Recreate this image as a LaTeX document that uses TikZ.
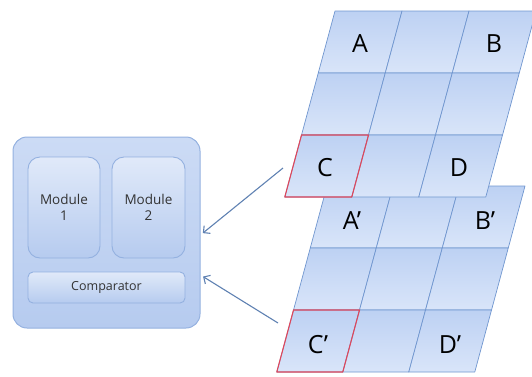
\documentclass[tikz,border=0pt]{standalone}
\usepackage{fontspec}
\setmainfont{Open Sans}
\usetikzlibrary{arrows.meta}
\definecolor{cellTop}{HTML}{BDD1F3}
\definecolor{cellBot}{HTML}{D9E5F9}
\definecolor{cellLine}{HTML}{7096CF}
\definecolor{boxTop}{HTML}{CCDBF5}
\definecolor{boxBot}{HTML}{B6CBEF}
\definecolor{boxLine}{HTML}{94B1E0}
\definecolor{arrowBlue}{HTML}{5F81B2}
\definecolor{markRed}{HTML}{E0475A}

\begin{document}
\begin{tikzpicture}[x=1pt,y=-1pt, line join=round,
    cell/.style={draw=cellLine, line width=0.7pt, top color=cellTop, bottom color=cellBot},
    redcell/.style={draw=markRed, line width=1.1pt},
    outerbox/.style={draw=boxLine, line width=1pt, rounded corners=14pt, top color=boxTop, bottom color=boxBot},
    innerbox/.style={draw=boxLine, line width=0.9pt, top color=boxTop!60!white, bottom color=boxBot},
    modtext/.style={text=black!80, font=\fontsize{13.5}{16}\selectfont, align=center},
    letter/.style={text=black, font=\fontsize{25}{28}\selectfont},
    link/.style={draw=arrowBlue, line width=1.1pt, -{Straight Barb[length=5pt,width=10pt]}, shorten >=3pt}]
  \clip (0,0) rectangle (532,376);

  % left block
  \node[outerbox, minimum width=187pt, minimum height=191pt] (chip) at (106.5,232.5) {};
  \node[innerbox, rounded corners=12pt, minimum width=72pt, minimum height=101pt, modtext] (modA) at (64,207.5) {Module\\1};
  \node[innerbox, rounded corners=12pt, minimum width=73pt, minimum height=101pt, modtext] (modB) at (148.5,207.5) {Module\\2};
  \node[innerbox, rounded corners=5pt, minimum width=157pt, minimum height=31pt, modtext, font=\fontsize{12.5}{14}\selectfont] (comp) at (106.5,287.5) {Comparator};

  % lower grid (behind)
  \foreach \r in {0,1,2}
    \foreach \c in {0,1,2}
      \path[cell] ({327+66*\c-16.74*\r},{186+62*\r}) -- ++(66,0) -- ++(-16.74,62) -- ++(-66,0) -- cycle;
  \draw[redcell] ({327-33.48},310) -- ++(66,0) -- ++(-16.74,62) -- ++(-66,0) -- cycle;

  % upper grid
  \foreach \r in {0,1,2}
    \foreach \c in {0,1,2}
      \path[cell] ({335+67*\c-16.74*\r},{11+62*\r}) -- ++(67,0) -- ++(-16.74,62) -- ++(-67,0) -- cycle;
  \draw[redcell] ({335-33.48},135) -- ++(67,0) -- ++(-16.74,62) -- ++(-67,0) -- cycle;

  % labels
  \node[letter] (lblA) at (360,44) {A};
  \node[letter] (lblB) at (494,44) {B};
  \node[letter] (lblC) at (325,168) {C};
  \node[letter] (lblD) at (459,168) {D};
  \node[letter] (lblAp) at (352,221) {A’};
  \node[letter] (lblBp) at (485,221) {B’};
  \node[letter] (lblCp) at (318,345) {C’};
  \node[letter] (lblDp) at (450,345) {D’};

  % arrows to the comparator block
  \coordinate (fromC) at (283,168);
  \coordinate (fromCp) at (278,323);
  \draw[link] (fromC) -- (chip.east |- 0,235);
  \draw[link] (fromCp) -- (chip.east |- 0,275);
\end{tikzpicture}
\end{document}
